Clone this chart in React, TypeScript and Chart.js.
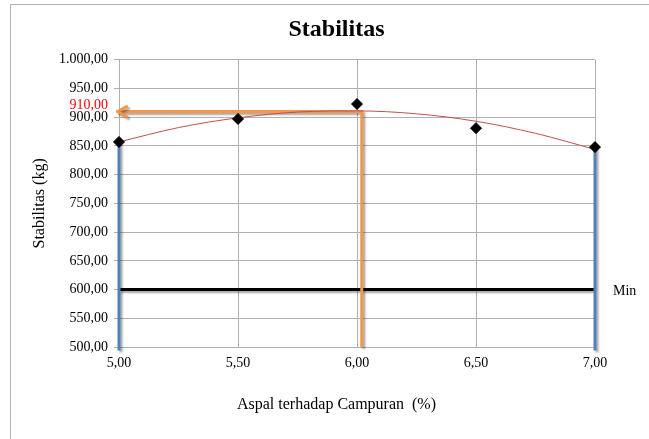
import { useEffect, useRef } from "react";
import { Chart, registerables } from "chart.js";

Chart.register(...registerables);

const TITLE = "Stabilitas";
const X_TITLE = "Aspal terhadap Campuran  (%)";
const Y_TITLE = "Stabilitas (kg)";

// measured points
const KADAR_ASPAL = [5.0, 5.5, 6.0, 6.5, 7.0];
const STABILITAS = [857, 897, 923, 881, 848];

// polynomial trend line
const TREND_X = [5.0, 5.25, 5.5, 5.75, 6.0, 6.25, 6.5, 6.75, 7.0];
const TREND_Y = [857, 882, 899, 909, 911, 906, 893, 872, 844];

// minimum requirement line
const MIN_X = [5.0, 7.0];
const MIN_Y = [600, 600];
const MIN_LABEL = "Min";

// range bounds (blue verticals)
const LEFT_BOUND_X = [5.0, 5.0];
const LEFT_BOUND_Y = [857, 494];
const RIGHT_BOUND_X = [7.0, 7.0];
const RIGHT_BOUND_Y = [848, 494];

// optimum read-off (orange arrow)
const OPT_X = [6.02, 6.02, 4.99];
const OPT_Y = [500, 910, 910];
const OPT_VALUE = 910;
const OPT_LABEL = "910,00";

const X_MIN = 5;
const X_MAX = 7;
const X_STEP = 0.5;
const Y_MIN = 500;
const Y_MAX = 1000;
const Y_STEP = 50;

const FONT = "'Liberation Serif', 'Times New Roman', serif";
const GRID = "#b0b0b0";

function fmt(v: number): string {
  const s = Number(v).toFixed(2);
  const [i, d] = s.split(".");
  return i.replace(/\B(?=(\d{3})+(?!\d))/g, ".") + "," + d;
}

function pts(xs: number[], ys: number[]) {
  return xs.map((x, k) => ({ x, y: ys[k] }));
}

const decorPlugin = {
  id: "decor",
  beforeDraw(chart: any) {
    const { ctx, width, height } = chart;
    ctx.save();
    ctx.fillStyle = "#ffffff";
    ctx.fillRect(0, 0, width, height);
    ctx.strokeStyle = "#b4b4b4";
    ctx.lineWidth = 1;
    ctx.strokeRect(10.5, 4.5, width + 50, height + 50);
    ctx.restore();
  },
  beforeDatasetDraw(chart: any, args: any) {
    const ds = chart.data.datasets[args.index];
    if (ds.shadow) {
      const ctx = chart.ctx;
      ctx.save();
      ctx.shadowColor = "rgba(0,0,0,0.35)";
      ctx.shadowOffsetX = 2;
      ctx.shadowOffsetY = 2;
      ctx.shadowBlur = 2;
    }
  },
  afterDatasetDraw(chart: any, args: any) {
    const ds = chart.data.datasets[args.index];
    const ctx = chart.ctx;
    if (ds.arrowEnd) {
      const meta = chart.getDatasetMeta(args.index);
      const last = meta.data[meta.data.length - 1];
      const tx = last.x;
      const ty = last.y;
      ctx.save();
      ctx.strokeStyle = ds.borderColor;
      ctx.lineWidth = 3;
      ctx.lineCap = "round";
      ctx.lineJoin = "round";
      ctx.beginPath();
      ctx.moveTo(tx + 10, ty - 5);
      ctx.lineTo(tx + 1, ty);
      ctx.lineTo(tx + 10, ty + 5);
      ctx.stroke();
      ctx.restore();
    }
    if (ds.shadow) {
      ctx.restore();
    }
  },
  afterDraw(chart: any) {
    const { ctx, chartArea } = chart;
    const y = chart.scales.y;
    ctx.save();
    ctx.font = `14px ${FONT}`;
    ctx.textBaseline = "middle";
    ctx.fillStyle = "#ff0000";
    ctx.textAlign = "right";
    ctx.fillText(OPT_LABEL, chartArea.left - 11, y.getPixelForValue(OPT_VALUE) - 6);
    ctx.fillStyle = "#000000";
    ctx.textAlign = "left";
    ctx.fillText(MIN_LABEL, chartArea.right + 18, y.getPixelForValue(MIN_Y[0]) + 2);
    ctx.restore();
  },
};

export default function App() {
  const ref = useRef<HTMLCanvasElement | null>(null);

  useEffect(() => {
    if (!ref.current) return;
    const chart = new Chart(ref.current, {
      type: "scatter",
      data: {
        datasets: [
          {
            label: "Min",
            data: pts(MIN_X, MIN_Y),
            showLine: true,
            borderColor: "#000000",
            borderWidth: 3,
            pointRadius: 0,
            order: 6,
            shadow: true,
          } as any,
          {
            label: "Batas kiri",
            data: pts(LEFT_BOUND_X, LEFT_BOUND_Y),
            showLine: true,
            borderColor: "#4f81bd",
            borderWidth: 3,
            pointRadius: 0,
            clip: false,
            order: 5,
            shadow: true,
          } as any,
          {
            label: "Batas kanan",
            data: pts(RIGHT_BOUND_X, RIGHT_BOUND_Y),
            showLine: true,
            borderColor: "#4f81bd",
            borderWidth: 3,
            pointRadius: 0,
            clip: false,
            order: 4,
            shadow: true,
          } as any,
          {
            label: "Kadar aspal optimum",
            data: pts(OPT_X, OPT_Y),
            showLine: true,
            borderColor: "#f79646",
            borderWidth: 3,
            pointRadius: 0,
            clip: false,
            order: 3,
            shadow: true,
            arrowEnd: true,
          } as any,
          {
            label: "Trend",
            data: pts(TREND_X, TREND_Y),
            showLine: true,
            borderColor: "#c0504d",
            borderWidth: 1,
            pointRadius: 0,
            cubicInterpolationMode: "monotone",
            order: 2,
          } as any,
          {
            label: "Stabilitas",
            data: pts(KADAR_ASPAL, STABILITAS),
            showLine: false,
            pointStyle: "rectRot",
            pointRadius: 5.5,
            backgroundColor: "#000000",
            borderColor: "#000000",
            borderWidth: 1,
            clip: false,
            order: 1,
          } as any,
        ],
      },
      options: {
        animation: false,
        responsive: false,
        layout: { padding: { top: 0, left: 50, right: 26, bottom: 0 } },
        plugins: {
          legend: { display: false },
          tooltip: { enabled: false },
          title: {
            display: true,
            text: TITLE,
            color: "#000000",
            font: { family: FONT, size: 24, weight: "bold" },
            padding: { top: 15, bottom: 16 },
          },
          subtitle: {
            display: true,
            position: "bottom",
            text: X_TITLE,
            color: "#000000",
            font: { family: FONT, size: 16, weight: "normal" },
            padding: { top: 0, bottom: 24.4 },
          },
        },
        scales: {
          x: {
            type: "linear",
            min: X_MIN,
            max: X_MAX,
            afterFit: (s: any) => {
              s.height = 48.4;
            },
            ticks: {
              stepSize: X_STEP,
              color: "#000000",
              padding: 8,
              font: { family: FONT, size: 14 },
              callback: (v: any) => fmt(v),
            },
            grid: { color: GRID, drawTicks: false },
            border: { color: GRID },
          },
          y: {
            type: "linear",
            min: Y_MIN,
            max: Y_MAX,
            afterFit: (s: any) => {
              s.width = 69;
            },
            title: {
              display: true,
              text: Y_TITLE,
              color: "#000000",
              font: { family: FONT, size: 16 },
              padding: { top: -19.6, bottom: 0 },
            },
            ticks: {
              stepSize: Y_STEP,
              color: "#000000",
              padding: 6,
              font: { family: FONT, size: 14 },
              callback: (v: any) => fmt(v),
            },
            grid: { color: GRID, tickLength: 5 },
            border: { color: GRID },
          },
          yRight: {
            type: "linear",
            position: "right",
            display: true,
            min: Y_MIN,
            max: Y_MAX,
            afterFit: (s: any) => {
              s.width = 28;
            },
            ticks: { display: false },
            grid: { display: false, drawTicks: false },
            border: { display: false },
          },
        },
      } as any,
      plugins: [decorPlugin],
    });
    return () => chart.destroy();
  }, []);

  return (
    <div style={{ position: "fixed", left: 0, top: 0, width: 649, height: 439 }}>
      <canvas ref={ref} width={649} height={439} style={{ width: 649, height: 439, display: "block" }} />
    </div>
  );
}
